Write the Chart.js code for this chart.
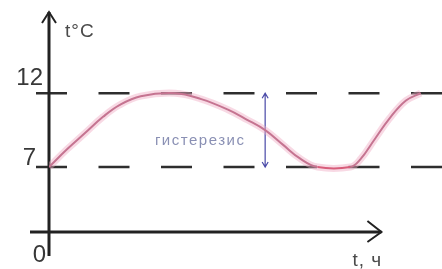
<!DOCTYPE html>
<html>
<head>
<meta charset="utf-8">
<script src="https://cdn.jsdelivr.net/npm/chart.js@4"></script>
<style>
  body { margin: 0; background: #fff; }
  #c { display: block; }
</style>
</head>
<body>
<canvas id="c" width="442" height="269"></canvas>
<script>
// time (hours, schematic) and temperature
var hours = [0, 1.1, 2.2, 3.3, 4.3, 5.6, 7.7, 9.3, 10.9, 12.1, 13.2, 14.3, 15.3, 16.4, 18.4, 19.0, 19.9, 20.8, 21.8, 22.7];
var temps = [7, 8.2, 9.3, 10.4, 11.2, 11.8, 12, 11.6, 10.9, 10.2, 9.5, 8.5, 7.6, 7, 7, 7.5, 8.9, 10.3, 11.5, 12];
var levels = [12, 7];            // dashed limits
var tickLabels = ['12', '7'];
var hystAt = 13.2;               // where the vertical marker sits
var hystText = 'гистерезис';
var xName = 't, ч', yName = 't°C';
var xAxisEnd = 20.3;

var pts = [];
for (var i = 0; i < hours.length; i++) pts.push({x: hours[i], y: temps[i]});

var sketch = {
  id: 'sketch',
  beforeDatasetsDraw: function(chart) {
    var c = chart.ctx, xs = chart.scales.x, ys = chart.scales.y, a = chart.chartArea;
    c.save();
    // dashed limits
    c.strokeStyle = '#2e2e2e';
    c.lineWidth = 2.5;
    c.setLineDash([31, 31.5]);
    levels.forEach(function(v) {
      var py = ys.getPixelForValue(v);
      c.beginPath();
      c.moveTo(a.left - 13, py);
      c.lineTo(a.right, py);
      c.stroke();
    });
    c.setLineDash([]);

    // hysteresis marker
    var hx = xs.getPixelForValue(hystAt);
    var y1 = ys.getPixelForValue(levels[0]), y2 = ys.getPixelForValue(levels[1]);
    c.strokeStyle = '#4a4aa8';
    c.lineWidth = 1.2;
    c.beginPath();
    c.moveTo(hx, y1); c.lineTo(hx, y2);
    c.moveTo(hx - 3, y1 + 5); c.lineTo(hx, y1); c.lineTo(hx + 3, y1 + 5);
    c.moveTo(hx - 3, y2 - 5); c.lineTo(hx, y2); c.lineTo(hx + 3, y2 - 5);
    c.stroke();
    c.fillStyle = '#8a90b4';
    c.font = '15px "Liberation Sans", Arial, sans-serif';
    c.letterSpacing = '1.5px';
    c.textAlign = 'center';
    c.textBaseline = 'middle';
    c.fillText(hystText, hx - 65, (y1 + y2) / 2 + 11);

    // axes
    var ox = xs.getPixelForValue(0), oy = a.bottom;
    var ex = xs.getPixelForValue(xAxisEnd);
    c.strokeStyle = '#222';
    c.lineWidth = 3;
    c.beginPath();
    c.moveTo(ox, a.top); c.lineTo(ox, oy + 24);
    c.moveTo(ox - 19, oy); c.lineTo(ex, oy);
    c.stroke();
    c.lineWidth = 2;
    c.beginPath();
    c.moveTo(ox - 7, a.top + 11); c.lineTo(ox, a.top); c.lineTo(ox + 7, a.top + 11);
    c.moveTo(ex - 14, oy - 11); c.lineTo(ex, oy); c.lineTo(ex - 14, oy + 10);
    c.stroke();

    // labels
    c.fillStyle = '#383838';
    c.letterSpacing = '0px';
    c.textBaseline = 'alphabetic';
    c.textAlign = 'right';
    c.font = '24px "Liberation Sans", Arial, sans-serif';
    c.fillText(tickLabels[0], ox - 6, ys.getPixelForValue(levels[0]) - 8);
    c.fillText(tickLabels[1], ox - 13, ys.getPixelForValue(levels[1]) - 2);
    c.fillText('0', ox - 3, oy + 30);
    c.textAlign = 'left';
    c.fillStyle = '#4a4a4a';
    c.font = '19px "Liberation Sans", Arial, sans-serif';
    c.letterSpacing = '1px';
    c.fillText(yName, ox + 16, a.top + 25);
    c.fillText(xName, ex - 29, oy + 34);
    c.restore();
  }
};

new Chart(document.getElementById('c'), {
  type: 'line',
  data: {
    datasets: [{
      data: pts,
      borderColor: 'rgba(240,170,195,0.45)',
      borderWidth: 7,
      pointRadius: 0,
      tension: 0.4
    }, {
      data: pts,
      borderColor: '#a24868',
      borderWidth: 2,
      pointRadius: 0,
      tension: 0.4,
      segment: {
        borderColor: function(ctx) {
          return ctx.p0.parsed.y === levels[1] && ctx.p1.parsed.y === levels[1] ? '#c41e3f' : undefined;
        }
      }
    }]
  },
  options: {
    responsive: false,
    animation: false,
    devicePixelRatio: 1,
    layout: { padding: { left: 49, right: 0, top: 12, bottom: 37 } },
    plugins: { legend: { display: false }, tooltip: { enabled: false } },
    scales: {
      x: { type: 'linear', min: 0, max: 24, display: false },
      y: { min: 2.6, max: 17.5, display: false }
    }
  },
  plugins: [sketch]
});
</script>
</body>
</html>
